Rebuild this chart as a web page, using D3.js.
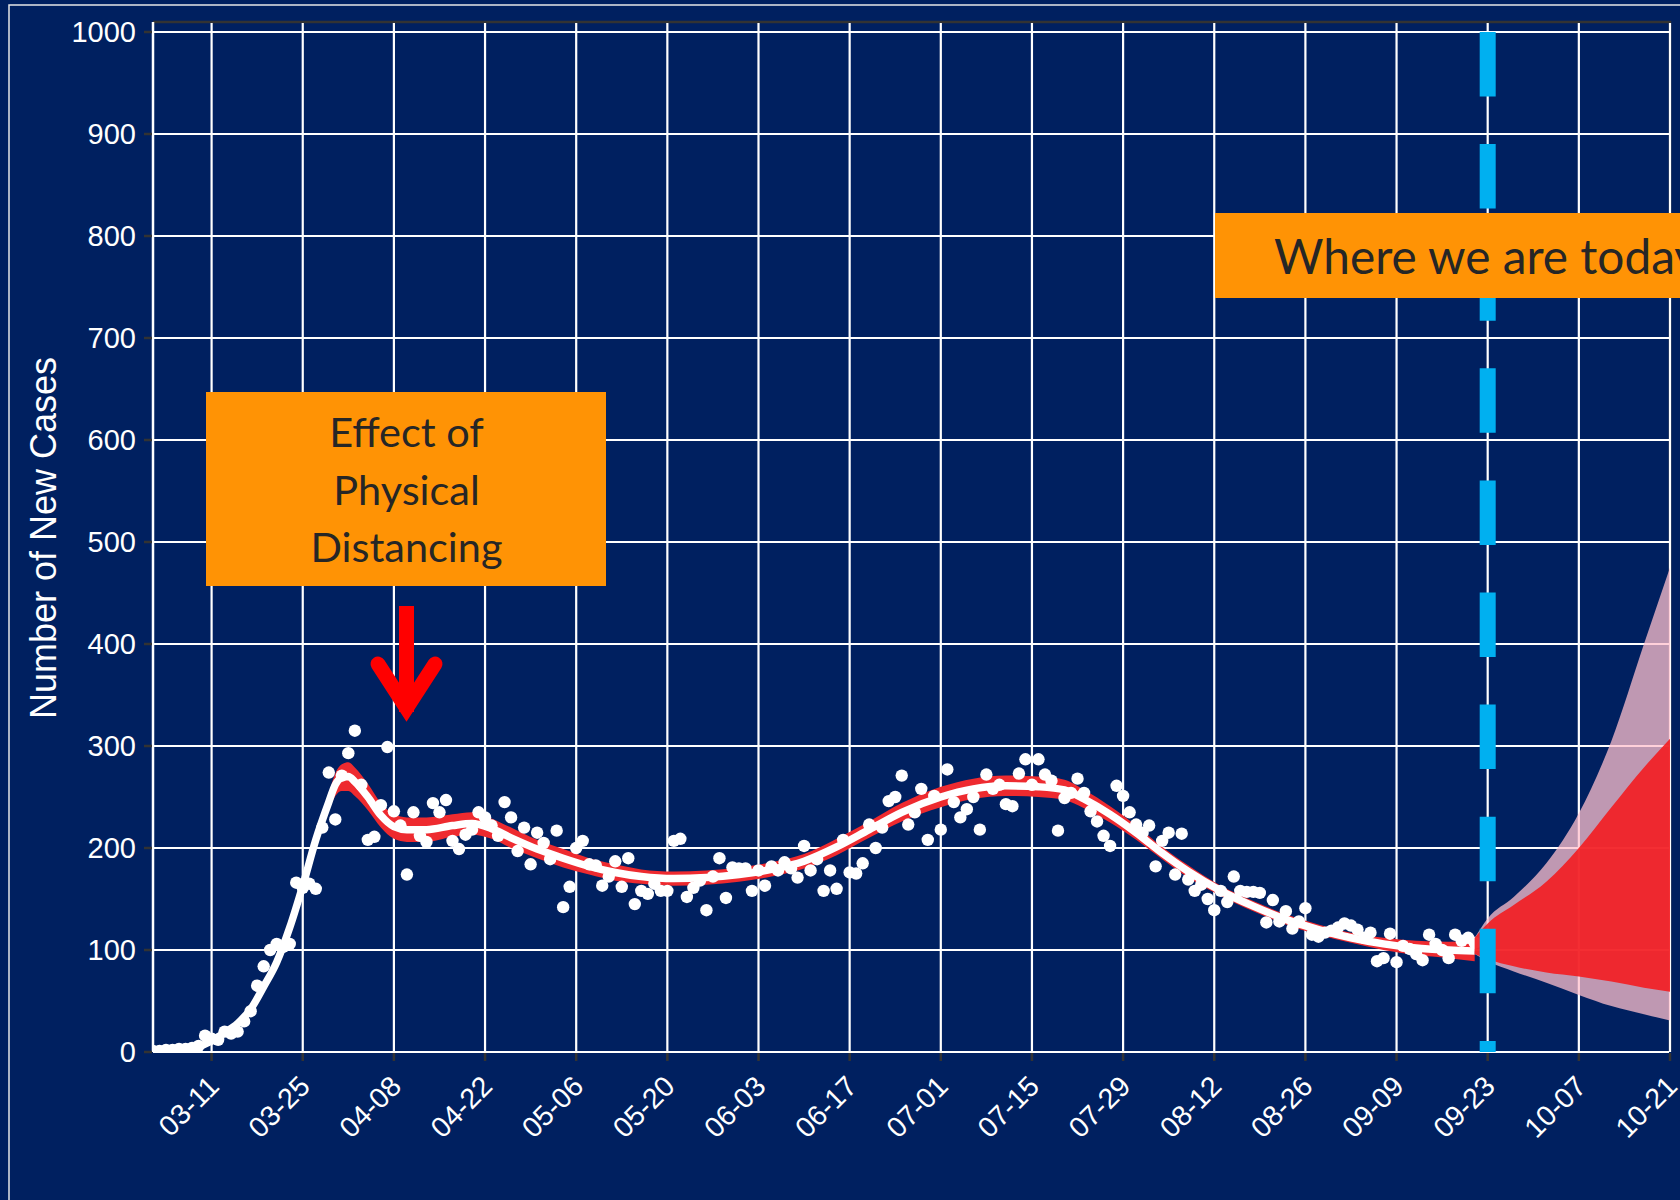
<!DOCTYPE html>
<html><head><meta charset="utf-8">
<script src="https://cdn.jsdelivr.net/npm/d3@7"></script>
<style>
html,body{margin:0;padding:0;background:#002060;overflow:hidden;}
svg{display:block;}
</style></head><body>
<svg id="chart" width="1680" height="1200"></svg>
<script>
// ---------------- data ----------------
const startDate = "03-02";          // first daily observation
const dailyCases = [
  1,1,2,2,3,3,4,6,16,13, 12,20,18,20,30,40,65,84,100,106,
  103,106,166,161,165,160,220,274,228,271, 293,315,262,208,211,242,299,236,222,174,
  235,212,206,244,235,247,207,199,213,218, 235,230,222,212,245,230,197,220,184,215,
  205,189,217,142,162,200,207,184,183,163, 172,187,162,190,145,158,155,165,158,158,
  207,209,152,161,168,139,172,190,151,181, 180,180,158,178,163,182,178,186,180,171,
  202,178,189,158,178,160,208,176,175,185, 223,200,220,246,250,271,223,235,258,208,
  251,218,277,245,230,238,250,218,272,258, 262,243,241,273,287,262,287,272,266,217,
  249,254,268,254,236,226,212,202,261,251, 235,223,215,222,182,207,215,174,214,169,
  158,164,150,139,158,147,172,158,157,157, 156,127,149,128,138,121,128,141,115,113,
  117,119,122,126,124,120,112,117,89,92, 116,88,104,101,96,90,115,106,100,92,
  115,109,112,107
];
const fitDates = ["03-02","03-06","03-09","03-11","03-13","03-15","03-17","03-19","03-21","03-23",
  "03-25","03-27","03-29","03-30","03-31","04-01","04-02","04-04","04-06","04-08",
  "04-10","04-13","04-17","04-20","04-23","04-26","04-30","05-04","05-08","05-12",
  "05-16","05-21","05-26","05-31","06-05","06-10","06-15","06-20","06-25","07-01",
  "07-06","07-11","07-16","07-20","07-23","07-27","07-31","08-04","08-08","08-13",
  "08-18","08-23","08-28","09-02","09-07","09-12","09-17","09-21"];
const fitValues = [1,2,5,11,19,28,42,64,88,122, 163,208,245,262,269,270,265,250,232,221,
  218,218,222,224,219,210,199,190,182,176, 172,170,171,174,179,187,201,218,235,250,
  258,261,260,257,248,233,215,195,177,158, 143,130,120,112,106,102,100,99];
const fitUpper = [2,3,6,12,21,30,44,67,91,125, 167,213,253,273,282,284,279,263,244,233,
  230,230,233,235,229,220,208,199,190,184, 179,177,178,181,186,194,209,226,244,260,
  268,271,270,267,257,241,222,201,183,163, 148,135,125,117,112,109,108,109];
const fitLower = [0,1,4,10,17,26,40,61,85,119, 159,203,237,251,256,256,251,237,220,209,
  206,206,211,213,209,200,190,181,174,168, 165,163,164,167,172,180,193,210,226,240,
  248,251,250,247,239,225,208,189,171,153, 138,125,115,107,100,95,92,89];
const fanDates   = ["09-21","09-23","09-27","10-02","10-07","10-12","10-17","10-21"];
const fanOuterHi = [112,131,152,185,234,305,400,475];
const fanInnerHi = [112,126,144,167,200,240,279,307];
const fanInnerLo = [96,91,84,78,74,69,63,59];
const fanOuterLo = [96,89,79,68,56,45,37,31];
const xTickLabels = ["03-11","03-25","04-08","04-22","05-06","05-20","06-03","06-17","07-01",
  "07-15","07-29","08-12","08-26","09-09","09-23","10-07","10-21"];
const yTicks = [0,100,200,300,400,500,600,700,800,900,1000];
const todayLabel = "09-23";
const yTitle = "Number of New Cases";
const note1Lines = ["Effect of","Physical","Distancing"];
const note2 = "Where we are today";

// ---------------- helpers ----------------
const parse = s => { const [m,d] = s.split("-").map(Number); return new Date(Date.UTC(2020, m-1, d)); };
const svg = d3.select("#chart");
const W = 1680, H = 1200;
const L = 153, R = 1670, T = 22, B = 1052;
const x = d3.scaleUtc().domain([parse("03-02"), parse("10-21")]).range([L, R]);
const y = d3.scaleLinear().domain([0, 1000]).range([B, 32]);

svg.append("rect").attr("width", W).attr("height", H).attr("fill", "#002060");
// outer frame
svg.append("rect").attr("x", 9).attr("y", 5).attr("width", 1800).attr("height", 1400)
  .attr("fill", "none").attr("stroke", "#e6e6e6").attr("stroke-width", 1.5);

const defs = svg.append("defs");
defs.append("clipPath").attr("id", "panel").append("rect")
  .attr("x", L).attr("y", T).attr("width", R - L).attr("height", B - T + 1);

// panel border
svg.append("path").attr("d", `M${L},${T}H${R}V${B}`).attr("fill", "none")
  .attr("stroke", "#333333").attr("stroke-width", 2.5);

// grid
const grid = svg.append("g");
grid.selectAll("line.h").data(yTicks).join("line")
  .attr("x1", L).attr("x2", R - 1).attr("y1", d => y(d)).attr("y2", d => y(d))
  .attr("stroke", "#ffffff").attr("stroke-width", 2.2);
grid.selectAll("line.v").data(xTickLabels).join("line")
  .attr("x1", d => x(parse(d))).attr("x2", d => x(parse(d)))
  .attr("y1", T + 1).attr("y2", B)
  .attr("stroke", "#ffffff").attr("stroke-width", 2.2);
grid.append("line").attr("x1", L).attr("x2", L).attr("y1", T).attr("y2", B)
  .attr("stroke", "#ffffff").attr("stroke-width", 2.5);

// axes ticks
svg.append("g").selectAll("line").data(yTicks).join("line")
  .attr("x1", 144).attr("x2", L - 1).attr("y1", d => y(d)).attr("y2", d => y(d))
  .attr("stroke", "#333333").attr("stroke-width", 2.5);
svg.append("g").selectAll("line").data(xTickLabels).join("line")
  .attr("x1", d => x(parse(d))).attr("x2", d => x(parse(d)))
  .attr("y1", B + 1).attr("y2", B + 9)
  .attr("stroke", "#333333").attr("stroke-width", 2.5);

// tick labels
svg.append("g").selectAll("text").data(yTicks).join("text")
  .attr("x", 136).attr("y", d => y(d)).attr("dy", "0.36em")
  .attr("text-anchor", "end").attr("fill", "#ffffff")
  .style("font-family", "'Liberation Sans', Arial, sans-serif").style("font-size", "29px")
  .text(d => d);
svg.append("g").selectAll("text").data(xTickLabels).join("text")
  .attr("transform", d => `translate(${x(parse(d)) + 9},${1088}) rotate(-45)`)
  .attr("text-anchor", "end").attr("fill", "#ffffff")
  .style("font-family", "'Liberation Sans', Arial, sans-serif").style("font-size", "28.5px")
  .text(d => d);

// y title
svg.append("text").attr("transform", "translate(56,538) rotate(-90)")
  .attr("text-anchor", "middle").attr("fill", "#ffffff")
  .style("font-family", "'Liberation Sans', Arial, sans-serif").style("font-size", "36px")
  .text(yTitle);

const plot = svg.append("g").attr("clip-path", "url(#panel)");

// ribbon
const fitData = fitDates.map((d, i) => ({ date: parse(d), v: fitValues[i], lo: fitLower[i], hi: fitUpper[i] }));
plot.append("path").datum(fitData)
  .attr("d", d3.area().x(d => x(d.date)).y0(d => y(d.lo)).y1(d => y(d.hi)).curve(d3.curveMonotoneX))
  .attr("fill", "#ee2a2f");
// fitted line
plot.append("path").datum(fitData)
  .attr("d", d3.line().x(d => x(d.date)).y(d => y(d.v)).curve(d3.curveMonotoneX))
  .attr("fill", "none").attr("stroke", "#ffffff").attr("stroke-width", 7.5);

// points
const start = parse(startDate);
const pts = dailyCases.map((v, i) => ({ date: d3.utcDay.offset(start, i), v }));
plot.append("g").selectAll("circle").data(pts).join("circle")
  .attr("cx", d => x(d.date)).attr("cy", d => y(d.v)).attr("r", 6.2)
  .attr("fill", "#ffffff");

// projection fan
const fanData = fanDates.map((d, i) => ({ date: parse(d), oh: fanOuterHi[i], ih: fanInnerHi[i], il: fanInnerLo[i], ol: fanOuterLo[i] }));
plot.append("path").datum(fanData)
  .attr("d", d3.area().x(d => x(d.date)).y0(d => y(d.ol)).y1(d => y(d.oh)).curve(d3.curveMonotoneX))
  .attr("fill", "rgb(255,192,205)").attr("fill-opacity", 0.75);
plot.append("path").datum(fanData)
  .attr("d", d3.area().x(d => x(d.date)).y0(d => y(d.il)).y1(d => y(d.ih)).curve(d3.curveMonotoneX))
  .attr("fill", "rgb(243,28,32)").attr("fill-opacity", 0.9);

// today dashed line
svg.append("line").attr("x1", x(parse(todayLabel))).attr("x2", x(parse(todayLabel)))
  .attr("y1", y(1000)).attr("y2", y(0))
  .attr("stroke", "#00b0f0").attr("stroke-width", 16).attr("stroke-dasharray", "64.5 47.6");

// annotation boxes
const noteFont = "Lato, 'Open Sans', sans-serif";
svg.append("rect").attr("x", 206).attr("y", 392).attr("width", 400).attr("height", 194).attr("fill", "#ff9305");
const n1 = svg.append("g");
const base1 = [447, 504.5, 562];
const t1 = n1.selectAll("text").data(note1Lines).join("text")
  .attr("x", 406.5).attr("y", (d, i) => base1[i]).attr("text-anchor", "middle")
  .attr("fill", "#262626").style("font-family", noteFont).style("font-size", "100px").text(d => d);
const wDist = t1.nodes()[2].getComputedTextLength();
t1.style("font-size", (100 * 192 / wDist) + "px");

svg.append("rect").attr("x", 1215).attr("y", 213).attr("width", 600).attr("height", 85).attr("fill", "#ff9305");
const t2 = svg.append("text").attr("x", 1274).attr("y", 273.5).attr("fill", "#262626")
  .style("font-family", noteFont).style("font-size", "100px").text("Where we are toda");
const w2 = t2.node().getComputedTextLength();
t2.style("font-size", (100 * 401 / w2) + "px").text(note2);

// red arrow
const arrow = svg.append("g").attr("stroke", "#ff0000").attr("fill", "none").attr("stroke-width", 15);
arrow.append("line").attr("x1", 406.5).attr("x2", 406.5).attr("y1", 606).attr("y2", 712);
arrow.append("path").attr("d", "M378,664 L406.5,708 L435,664")
  .attr("stroke-linecap", "round").attr("stroke-linejoin", "miter").attr("stroke-miterlimit", 10);
</script>
</body></html>
